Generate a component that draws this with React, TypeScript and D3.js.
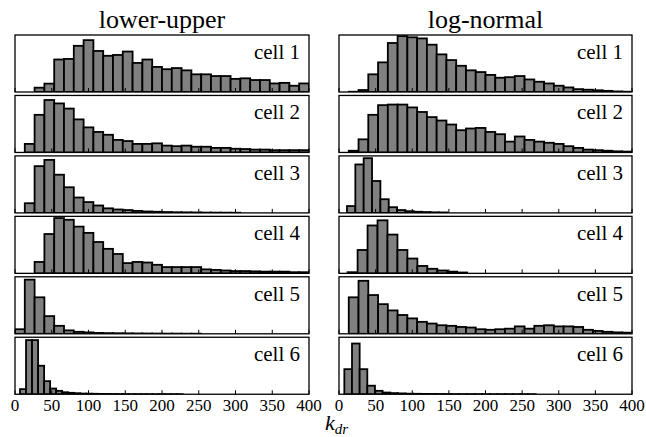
import React from 'react';
import * as d3 from 'd3';

// ---- data (relative bar heights) ----
const columnTitles = ['lower-upper', 'log-normal'];
const cellLabels = ['cell 1', 'cell 2', 'cell 3', 'cell 4', 'cell 5', 'cell 6'];
const xTicks = [0, 50, 100, 150, 200, 250, 300, 350, 400];

// lower-upper column
const luStarts = [0, 0, 0, 0, 0, 6.8];
const luWidths = [13.333, 13.333, 13.333, 13.333, 13.333, 8.2];
const luCell1 = [0, 0, 0.076, 0.147, 0.57, 0.58, 0.81, 0.91, 0.72, 0.635, 0.65, 0.71, 0.51, 0.57, 0.44, 0.4, 0.42, 0.38, 0.31, 0.31, 0.28, 0.28, 0.23, 0.24, 0.21, 0.21, 0.15, 0.16, 0.11, 0.15];
const luCell2 = [0, 0.15, 0.66, 0.92, 0.86, 0.77, 0.58, 0.44, 0.36, 0.31, 0.22, 0.2, 0.15, 0.15, 0.16, 0.12, 0.11, 0.12, 0.1, 0.1, 0.08, 0.08, 0.065, 0.06, 0.05, 0.05, 0.04, 0.04, 0.04, 0.04];
const luCell3 = [0, 0.17, 0.82, 0.93, 0.67, 0.45, 0.27, 0.19, 0.13, 0.08, 0.06, 0.05, 0.035, 0.025, 0.02, 0.015, 0.012, 0.01, 0.008, 0.006, 0.005, 0.004, 0.003];
const luCell4 = [0, 0, 0.2, 0.69, 0.97, 0.94, 0.82, 0.71, 0.55, 0.43, 0.34, 0.18, 0.2, 0.19, 0.15, 0.11, 0.11, 0.11, 0.11, 0.07, 0.06, 0.05, 0.04, 0.04, 0.035, 0.03, 0.03, 0.03, 0.02, 0.02];
const luCell5 = [0.08, 0.95, 0.64, 0.31, 0.14, 0.06, 0.035, 0.025, 0.015, 0.012, 0.01, 0.008, 0.006, 0.005, 0.004, 0.003, 0.003, 0.002, 0.002];
const luCell6 = [0.09, 0.95, 0.95, 0.5, 0.23, 0.1, 0.06, 0.035, 0.025, 0.018, 0.012, 0.01, 0.008, 0.006, 0.005, 0.004, 0.003, 0.003, 0.002, 0.002, 0.002, 0.001, 0.001, 0.001, 0.001, 0.001, 0.001];

// log-normal column
const lnStarts = [0, 0, 10.9, 11.8, 0, 7.3];
const lnWidths = [13.333, 13.333, 11.4, 13.6, 13.333, 10.45];
const lnCell1 = [0, 0.005, 0.035, 0.31, 0.52, 0.86, 0.98, 0.96, 0.94, 0.83, 0.66, 0.56, 0.46, 0.38, 0.35, 0.3, 0.25, 0.26, 0.28, 0.22, 0.18, 0.15, 0.11, 0.08, 0.05, 0.04, 0.03, 0.02, 0.01, 0.005];
const lnCell2 = [0, 0.03, 0.23, 0.66, 0.83, 0.84, 0.84, 0.79, 0.71, 0.62, 0.56, 0.49, 0.39, 0.42, 0.43, 0.36, 0.32, 0.19, 0.28, 0.22, 0.19, 0.17, 0.15, 0.11, 0.08, 0.05, 0.04, 0.03, 0.02, 0.015];
const lnCell3 = [0.12, 0.85, 0.96, 0.56, 0.24, 0.1, 0.05, 0.03, 0.02, 0.015, 0.01, 0.008];
const lnCell4 = [0.02, 0.41, 0.84, 0.93, 0.68, 0.41, 0.26, 0.13, 0.08, 0.05, 0.03, 0.015];
const lnCell5 = [0, 0.64, 0.93, 0.68, 0.52, 0.41, 0.33, 0.27, 0.21, 0.18, 0.15, 0.14, 0.12, 0.11, 0.08, 0.07, 0.08, 0.09, 0.13, 0.09, 0.14, 0.15, 0.13, 0.13, 0.12, 0.07, 0.05, 0.035, 0.025, 0.02];
const lnCell6 = [0.44, 0.89, 0.44, 0.15, 0.06, 0.03, 0.02, 0.015, 0.01, 0.008, 0.006, 0.005, 0.004, 0.003, 0.003, 0.002, 0.002, 0.002, 0.001, 0.001, 0.001, 0.001, 0.001, 0.001, 0.001];

const luCells = [luCell1, luCell2, luCell3, luCell4, luCell5, luCell6];
const lnCells = [lnCell1, lnCell2, lnCell3, lnCell4, lnCell5, lnCell6];

const columns = [
  { title: columnTitles[0], cells: luCells, starts: luStarts, widths: luWidths },
  { title: columnTitles[1], cells: lnCells, starts: lnStarts, widths: lnWidths },
];

// ---- layout ----
const W = 646;
const H = 437;
const colX: [number, number][] = [[15, 309], [339, 632]];
const panelTop0 = 35;
const panelStep = 60.45;
const panelH = 57;
const txt = { fontFamily: "'Liberation Serif'" };

export default function App() {
  return (
    <svg width={W} height={H} style={{ position: 'absolute', left: 0, top: 0, background: '#fff' }}>
      <rect x={0} y={0} width={W} height={H} fill="#fff" />
      <defs>
        {columns.map((col, ci) =>
          cellLabels.map((_, pi) => {
            const top = panelTop0 + pi * panelStep;
            return (
              <clipPath id={`clip-${ci}-${pi}`} key={`c${ci}${pi}`}>
                <rect x={colX[ci][0]} y={top - 2} width={colX[ci][1] - colX[ci][0]} height={panelH + 2} />
              </clipPath>
            );
          })
        )}
      </defs>
      {columns.map((col, ci) => {
        const x = d3.scaleLinear().domain([0, 400]).range(colX[ci]);
        const cx = (colX[ci][0] + colX[ci][1]) / 2;
        return (
          <g key={ci}>
            <text x={cx} y={28} textAnchor="middle" fontSize={26} style={txt}>{col.title}</text>
            {col.cells.map((vals, pi) => {
              const top = panelTop0 + pi * panelStep;
              const bottom = top + panelH;
              const y = d3.scaleLinear().domain([0, 1]).range([bottom, top]);
              const s = col.starts[pi];
              const w = col.widths[pi];
              return (
                <g key={pi}>
                  <g clipPath={`url(#clip-${ci}-${pi})`}>
                    {vals.map((v, k) => {
                      const x0 = x(s + k * w);
                      const x1 = x(s + (k + 1) * w);
                      return (
                        <rect
                          key={k}
                          x={x0}
                          y={y(v)}
                          width={x1 - x0}
                          height={bottom - y(v)}
                          fill="#808080"
                          stroke="#000"
                          strokeWidth={1.8}
                        />
                      );
                    })}
                  </g>
                  {xTicks.map((t) => (
                    <line key={t} x1={x(t)} x2={x(t)} y1={bottom} y2={bottom - 4} stroke="#000" strokeWidth={1} />
                  ))}
                  <rect x={colX[ci][0]} y={top} width={colX[ci][1] - colX[ci][0]} height={panelH} fill="none" stroke="#000" strokeWidth={1.3} />
                  <text x={colX[ci][1] - 9} y={top + 24} textAnchor="end" fontSize={21} style={txt}>{cellLabels[pi]}</text>
                </g>
              );
            })}
            {xTicks.map((t) => (
              <text key={t} x={x(t)} y={411} textAnchor="middle" fontSize={17} style={txt}>{t}</text>
            ))}
          </g>
        );
      })}
      <text x={325} y={430} fontSize={22} fontStyle="italic" style={txt}>
        k<tspan fontSize={15} dy={4}>dr</tspan>
      </text>
    </svg>
  );
}
